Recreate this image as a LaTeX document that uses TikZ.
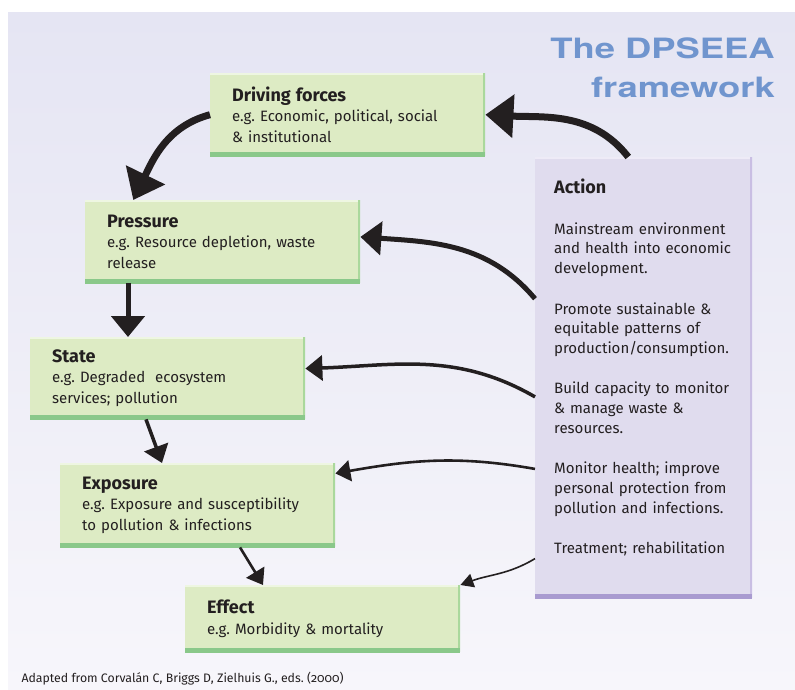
\documentclass[tikz,border=0pt]{standalone}
\usepackage{fontspec}
\setmainfont{Fira Sans}
\newfontfamily\titlefont[FakeStretch=1.3]{TeX Gyre Heros}
\usetikzlibrary{arrows.meta}
\frenchspacing
\definecolor{bgtop}{RGB}{229,229,243}
\definecolor{bgbot}{RGB}{247,246,251}
\definecolor{inkc}{RGB}{35,31,32}
\definecolor{titleblue}{RGB}{112,149,206}
\definecolor{stagefill}{RGB}{221,235,196}
\definecolor{stagelite}{RGB}{238,246,226}
\definecolor{stageside}{RGB}{170,216,156}
\definecolor{stagedark}{RGB}{138,200,138}
\definecolor{actfill}{RGB}{224,220,238}
\definecolor{actlite}{RGB}{238,235,247}
\definecolor{actside}{RGB}{201,190,227}
\definecolor{actdark}{RGB}{169,155,208}
\newcommand\boxhead[1]{{\fontsize{18}{20.5}\selectfont\bfseries #1}}
\tikzset{
  stage/.style={anchor=north west, fill=stagefill, minimum width=275pt,
    text width=231pt, inner xsep=22pt, inner ysep=0pt, align=left,
    font=\fontsize{15}{20.5}\selectfont, text=inkc,
    path picture={
      \draw[line width=4pt, stagelite] (path picture bounding box.north west) -- (path picture bounding box.north east);
      \draw[line width=5pt, stageside] (path picture bounding box.north east) -- (path picture bounding box.south east);
      \draw[line width=8pt, stagedark] (path picture bounding box.south west) -- (path picture bounding box.south east);
    }},
  actbox/.style={anchor=north west, fill=actfill, minimum width=217pt,
    minimum height=441pt, text width=179pt, inner xsep=19pt, inner ysep=0pt,
    align=left, font=\fontsize{15}{20}\selectfont, text=inkc,
    path picture={
      \draw[line width=4pt, actlite] (path picture bounding box.north west) -- (path picture bounding box.north east);
      \draw[line width=5pt, actside] (path picture bounding box.north east) -- (path picture bounding box.south east);
      \draw[line width=8pt, actdark] (path picture bounding box.south west) -- (path picture bounding box.south east);
    }},
  flowXL/.style={draw=inkc, line width=7pt, -{Triangle[length=28pt,width=42pt]}},
  flowL/.style={draw=inkc, line width=5pt, -{Triangle[length=21pt,width=33pt]}},
  flowM/.style={draw=inkc, line width=3.5pt, -{Triangle[length=17pt,width=25pt]}},
  flowS/.style={draw=inkc, line width=2.6pt, -{Triangle[length=15pt,width=21pt]}},
  flowXS/.style={draw=inkc, line width=1.6pt, -{Triangle[length=13pt,width=14pt]}},
}

\begin{document}
\begin{tikzpicture}[x=1pt,y=1pt,yscale=-1]
\useasboundingbox (0,0) rectangle (795,690);
\fill[top color=bgtop, bottom color=bgbot] (8,13) rectangle (795,690);

% heading
\node[anchor=north east, align=right, inner sep=0pt, text=titleblue,
  font=\titlefont\bfseries\fontsize{28}{39}\selectfont] (title) at (775,38) {The DPSEEA\\framework};

% the five stages
\node[stage, minimum height=83pt] (drive) at (210,73)
  {\boxhead{Driving forces}\\e.g. Economic, political, social\\\& institutional};
\node[stage, minimum height=83pt] (pressure) at (85,200)
  {\boxhead{Pressure}\\e.g. Resource depletion, waste\\release};
\node[stage, minimum height=82pt] (state) at (30,337)
  {\boxhead{State}\\e.g. Degraded\ \ ecosystem\\services; pollution};
\node[stage, minimum height=84pt] (exposure) at (60,463)
  {\boxhead{Exposure}\\e.g. Exposure and susceptibility\\to pollution \& infections};
\node[stage, minimum height=67pt] (effect) at (185,585)
  {\boxhead{Effect}\\e.g. Morbidity \& mortality};

% action column
\node[actbox] (action) at (535,157)
  {\boxhead{Action}\\[20pt]
   Mainstream environment\\and health into economic\\development.\\[20pt]
   Promote sustainable \&\\equitable patterns of\\production/consumption.\\[20pt]
   Build capacity to monitor\\\& manage waste \&\\resources.\\[20pt]
   Monitor health; improve\\personal protection from\\pollution and infections.\\[20pt]
   Treatment; rehabilitation\\[2pt]\mbox{}};

% chain
\draw[flowXL] (action.94) to[out=-128, in=3] (drive.east);
\draw[flowXL] (drive.west) to[out=165, in=-64] (pressure.155);
\draw[flowL] ([xshift=43pt]pressure.south west) -- ([xshift=98pt]state.north west);
\draw[flowM] ([xshift=116pt]state.south west) -- ([xshift=102pt]exposure.north west);
\draw[flowS] ([xshift=180pt]exposure.south west) -- ([xshift=78pt]effect.north west);

% feedback from action
\draw[flowL] (action.144) to[out=-130, in=4] (pressure.2);
\draw[flowM] (action.190) to[out=-150, in=-2] (state.4);
\draw[flowS] (action.220) to[out=-170, in=-10] (exposure.13);
\draw[flowXS] (action.239) to[out=149, in=-20] (effect.north east);

\node[anchor=base west, font=\fontsize{12.3}{14}\selectfont\addfontfeatures{Numbers=OldStyle}, text=inkc] (source) at (18,682)
  {Adapted from Corval\'an C, Briggs D, Zielhuis G., eds. (2000)};
\end{tikzpicture}
\end{document}
